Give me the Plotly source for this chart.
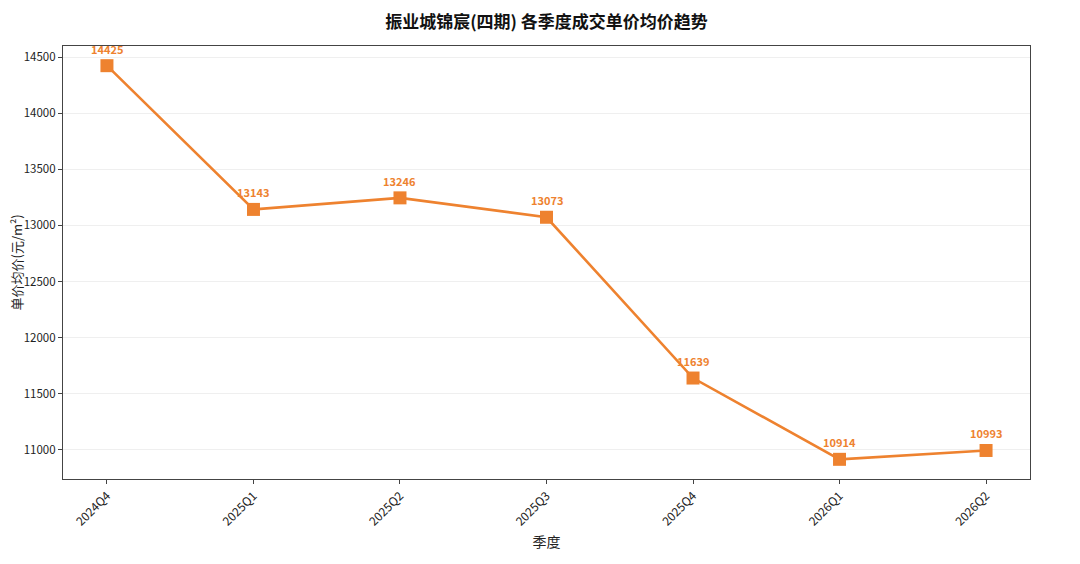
import plotly.graph_objects as go

# quarterly average unit price data
quarters = ["2024Q4", "2025Q1", "2025Q2", "2025Q3", "2025Q4", "2026Q1", "2026Q2"]
avg_price = [14425, 13143, 13246, 13073, 11639, 10914, 10993]
y_ticks = [11000, 11500, 12000, 12500, 13000, 13500, 14000, 14500]

line_color = "#EE822F"
font_name = "Noto Sans CJK SC"

fig = go.Figure()
fig.add_trace(go.Scatter(
    x=list(range(len(quarters))), y=avg_price,
    mode="lines+markers",
    line=dict(color=line_color, width=2.6),
    marker=dict(symbol="square", size=13, color=line_color),
    showlegend=False,
))

# value labels above each point
for i, v in enumerate(avg_price):
    fig.add_annotation(x=i, y=v, text="<b>%d</b>" % v, showarrow=False,
                       yshift=17, font=dict(size=11, color=line_color, family=font_name))

# y axis title placed by hand so it sits at the far left like the original
fig.add_annotation(x=0, y=0.5, xref="paper", yref="paper", xshift=-47,
                   text="单价均价(元/m²)", textangle=-90, showarrow=False,
                   xanchor="center", yanchor="middle",
                   font=dict(size=13, color="#222", family=font_name))

# page body has an 8px margin, so the figure is a bit smaller than the window
fig.update_layout(
    width=1072, height=556,
    paper_bgcolor="white", plot_bgcolor="white",
    margin=dict(l=55, r=50, t=38, b=85),
    font=dict(family=font_name, color="#222", size=12),
    title=dict(text="<b>振业城锦宸(四期) 各季度成交单价均价趋势</b>",
               x=0.5, xref="paper", xanchor="center", y=0.975, yanchor="middle",
               font=dict(size=17, color="#111")),
)
fig.update_xaxes(
    range=[-0.3, len(quarters) - 0.7], automargin=False,
    tickmode="array", tickvals=list(range(len(quarters))), ticktext=quarters,
    tickangle=-45, ticks="outside", ticklen=4, tickcolor="#444",
    showgrid=False, zeroline=False,
    showline=True, linecolor="#444", linewidth=1.2, mirror=True,
    title=dict(text="季度", font=dict(size=14, color="#222"), standoff=9),
)
fig.update_yaxes(
    range=[10738.5, 14600.5], automargin=False,
    tickmode="array", tickvals=y_ticks, ticktext=[str(t) for t in y_ticks],
    tickfont=dict(size=11.5),
    ticks="outside", ticklen=4, tickcolor="#444",
    showgrid=True, gridcolor="#EFEFEF", gridwidth=1, zeroline=False,
    showline=True, linecolor="#444", linewidth=1.2, mirror=True,
)

fig.write_html("out.html")
